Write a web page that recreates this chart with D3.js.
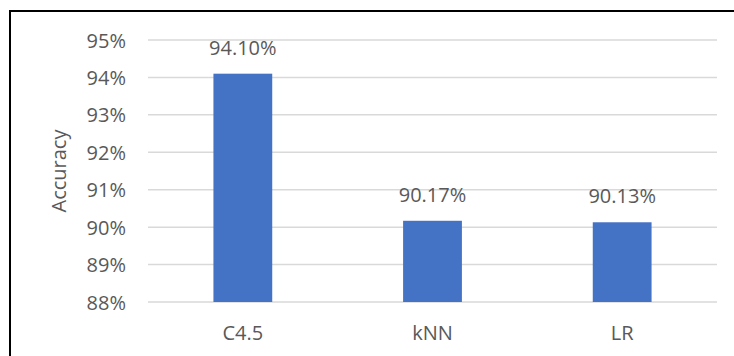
<!DOCTYPE html>
<html>
<head>
<meta charset="utf-8">
<script src="https://cdn.jsdelivr.net/npm/d3@7"></script>
<style>
  html, body { margin: 0; padding: 0; background: #fff; }
  svg { display: block; }
  text { font-family: "Open Sans", "Liberation Sans", sans-serif; fill: #595959; }
</style>
</head>
<body>
<script>
// Classifier accuracy (%)
const categories = ["C4.5", "kNN", "LR"];
const accuracy = [94.10, 90.17, 90.13];
const yTicks = [88, 89, 90, 91, 92, 93, 94, 95];

const W = 734, H = 356;
const plot = { left: 148, right: 717, top: 40, bottom: 302 };

const svg = d3.select("body").append("svg")
  .attr("width", W).attr("height", H);

// chart frame (top and left edges visible)
svg.append("path")
  .attr("d", `M10,${H + 5} L10,11 L${W + 5},11`)
  .attr("fill", "none")
  .attr("stroke", "#000")
  .attr("stroke-width", 2);

const x = d3.scaleBand()
  .domain(categories)
  .range([plot.left, plot.right])
  .paddingInner(0.69)
  .paddingOuter(0.345);

const y = d3.scaleLinear()
  .domain([88, 95])
  .range([plot.bottom, plot.top]);

// horizontal gridlines
svg.append("g")
  .selectAll("line")
  .data(yTicks)
  .join("line")
  .attr("x1", plot.left)
  .attr("x2", plot.right)
  .attr("y1", d => y(d))
  .attr("y2", d => y(d))
  .attr("stroke", "#d9d9d9")
  .attr("stroke-width", 1.5);

// y axis labels
const yAxis = svg.append("g")
  .attr("transform", `translate(${plot.left - 22},0)`)
  .call(d3.axisLeft(y).tickValues(yTicks).tickSize(0).tickPadding(0).tickFormat(d => d + "%"));
yAxis.select(".domain").remove();
yAxis.selectAll("text")
  .attr("font-size", 20)
  .attr("font-family", null)
  .attr("fill", "#595959")
  .attr("dy", "0.35em");

// bars
svg.append("g")
  .selectAll("rect")
  .data(accuracy)
  .join("rect")
  .attr("x", (d, i) => x(categories[i]))
  .attr("width", x.bandwidth())
  .attr("y", d => y(d))
  .attr("height", d => y(88) - y(d))
  .attr("fill", "#4472c4");

// value labels
svg.append("g")
  .selectAll("text")
  .data(accuracy)
  .join("text")
  .attr("x", (d, i) => x(categories[i]) + x.bandwidth() / 2)
  .attr("y", d => y(d) - 19)
  .attr("text-anchor", "middle")
  .attr("font-size", 20)
  .text(d => d.toFixed(2) + "%");

// x axis labels
const xAxis = svg.append("g")
  .attr("transform", `translate(0,${plot.bottom})`)
  .call(d3.axisBottom(x).tickSize(0).tickPadding(0));
xAxis.select(".domain").remove();
xAxis.selectAll("text")
  .attr("font-size", 20)
  .attr("font-family", null)
  .attr("fill", "#595959")
  .attr("dy", null)
  .attr("y", 38);

// y axis title
svg.append("text")
  .attr("transform", `translate(${66},${(plot.top + plot.bottom) / 2}) rotate(-90)`)
  .attr("text-anchor", "middle")
  .attr("font-size", 20)
  .text("Accuracy");
</script>
</body>
</html>
